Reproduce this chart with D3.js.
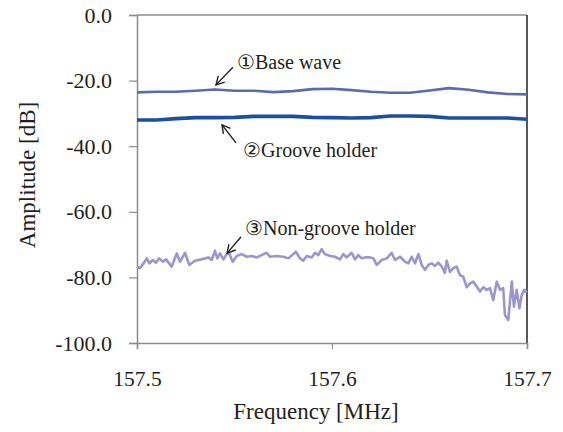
<!DOCTYPE html>
<html>
<head>
<meta charset="utf-8">
<script src="https://cdn.jsdelivr.net/npm/d3@7"></script>
<style>
  body { margin: 0; background: #fff; }
</style>
</head>
<body>
<div id="chart"></div>
<script>

var FONT = "'Liberation Serif', 'Times New Roman', serif"

// frequency samples (MHz) for the two smooth traces
var freqSmooth = [157.50, 157.51, 157.52, 157.53, 157.54, 157.55, 157.56, 157.57, 157.58, 157.59, 157.60,
                  157.61, 157.62, 157.63, 157.64, 157.65, 157.66, 157.67, 157.68, 157.69, 157.70]

// 1 base wave
var baseWave = [-23.6, -23.4, -23.4, -23.1, -22.7, -23.1, -23.1, -23.5, -23.2, -22.6, -22.5,
                -22.9, -23.4, -23.7, -23.7, -23.0, -22.3, -22.8, -23.6, -24.1, -24.2]

// 2 groove holder
var grooveHolder = [-32.0, -32.0, -31.6, -31.3, -31.3, -31.2, -30.9, -30.9, -30.9, -31.2, -31.3,
                    -31.4, -31.3, -30.8, -30.8, -30.9, -31.4, -31.4, -31.4, -31.4, -31.8]

// 3 non-groove holder (noisy trace, read point by point)
var freqNoisy = [157.5000, 157.5015, 157.5036, 157.5050, 157.5063, 157.5081, 157.5097, 157.5114, 157.5132, 157.5149,
                 157.5178, 157.5204, 157.5221, 157.5246, 157.5268, 157.5297, 157.5332, 157.5366, 157.5383, 157.5400,
                 157.5412, 157.5426, 157.5443, 157.5460, 157.5473, 157.5491, 157.5511, 157.5537, 157.5563, 157.5588,
                 157.5614, 157.5639, 157.5665, 157.5682, 157.5716, 157.5750, 157.5776, 157.5802, 157.5815, 157.5836,
                 157.5853, 157.5870, 157.5896, 157.5913, 157.5930, 157.5947, 157.5964, 157.5990, 157.6015, 157.6041,
                 157.6058, 157.6075, 157.6101, 157.6118, 157.6135, 157.6152, 157.6169, 157.6195, 157.6212, 157.6229,
                 157.6255, 157.6281, 157.6306, 157.6323, 157.6349, 157.6374, 157.6391, 157.6409, 157.6426, 157.6443,
                 157.6460, 157.6477, 157.6494, 157.6511, 157.6528, 157.6545, 157.6563, 157.6579, 157.6588, 157.6605,
                 157.6622, 157.6639, 157.6656, 157.6673, 157.6691, 157.6708, 157.6725, 157.6742, 157.6759, 157.6776,
                 157.6793, 157.6810, 157.6827, 157.6845, 157.6862, 157.6878, 157.6887, 157.6904, 157.6922, 157.6933,
                 157.6947, 157.6961, 157.6973, 157.6985, 157.7000]
var nonGroove = [-76.7, -77.2, -75.5, -74.2, -75.7, -74.7, -75.5, -74.2, -75.2, -74.5,
                 -76.7, -72.7, -75.2, -72.5, -76.2, -74.9, -74.5, -73.9, -74.7, -71.9,
                 -74.2, -72.7, -74.5, -72.9, -72.7, -75.2, -73.5, -72.9, -73.7, -73.5,
                 -73.9, -73.2, -72.5, -73.7, -73.5, -73.7, -74.2, -72.9, -72.2, -74.2,
                 -74.9, -73.5, -73.9, -72.5, -73.2, -71.4, -72.9, -73.5, -73.7, -74.5,
                 -72.9, -73.9, -72.5, -74.5, -73.2, -74.2, -73.9, -73.9, -74.2, -76.2,
                 -74.7, -74.2, -72.5, -74.7, -73.7, -75.2, -75.7, -73.7, -75.7, -72.9,
                 -76.2, -77.7, -76.2, -75.7, -76.5, -75.5, -76.7, -78.6, -74.9, -78.3,
                 -77.2, -76.7, -79.3, -79.8, -83.0, -81.8, -81.3, -82.8, -84.3, -83.0,
                 -83.8, -83.3, -86.9, -81.3, -83.8, -83.3, -91.5, -93.0, -81.3, -88.9,
                 -83.8, -89.4, -85.4, -83.8, -84.5]

var yTicks = [0, -20, -40, -60, -80, -100]
var xTicks = [157.5, 157.6, 157.7]

// annotation labels: text start, arrow tail and arrow head (freq, dB)
var noteText = ["\u2460Base wave", "\u2461Groove holder", "\u2462Non-groove holder"]
var noteAt = [[157.5513, -16.5], [157.5544, -43.3], [157.5554, -67.1]]
var arrowFrom = [[157.5492, -15.9], [157.5508, -39.0], [157.5533, -67.7]]
var arrowTo = [[157.5405, -21.3], [157.5436, -33.5], [157.5462, -72.6]]

var W = 563, H = 432
var margin = {top: 15, right: 36, bottom: 89, left: 137},
  width = W - margin.left - margin.right,
  height = H - margin.top - margin.bottom;

var svg = d3.select("#chart").append("svg")
            .attr("width", W).attr("height", H)
            .attr("font-family", FONT)

svg.append("defs").append("marker")
   .attr("id", "head")
   .attr("viewBox", "-10 -6 12 12")
   .attr("markerUnits", "userSpaceOnUse")
   .attr("markerWidth", 12).attr("markerHeight", 12)
   .attr("refX", 0).attr("refY", 0)
   .attr("orient", "auto")
   .append("path")
   .attr("d", "M-8,-4.5L0,0L-8,4.5")
   .attr("fill", "none").attr("stroke", "#231f20").attr("stroke-width", 1.4)

var g = svg.append("g")
           .attr("transform", "translate(" + margin.left + "," + margin.top + ")")

var x = d3.scaleLinear().domain([157.5, 157.7]).range([0, width])
var y = d3.scaleLinear().domain([-100, 0]).range([height, 0])

// frame: grey top and left, dark right edge
g.append("line").attr("x1", 0).attr("x2", width).attr("y1", 0).attr("y2", 0)
 .attr("stroke", "#8c8c8c").attr("stroke-width", 1.5)
g.append("line").attr("x1", width).attr("x2", width).attr("y1", 0).attr("y2", height)
 .attr("stroke", "#231f20").attr("stroke-width", 1.5)

var yAxis = g.append("g")
  .call(d3.axisLeft(y).tickValues(yTicks).tickFormat(d3.format(".1f")).tickSize(8).tickPadding(17))
  .attr("font-family", FONT)
yAxis.selectAll("line").attr("stroke", "#8c8c8c").attr("stroke-width", 1.2)
yAxis.select(".domain").attr("stroke", "#8c8c8c").attr("stroke-width", 1.5)
yAxis.selectAll("text")
     .style("font-family", FONT).style("font-size", "22px").attr("fill", "#231f20")
     .text(function(d) { return d3.format(".1f")(d).replace("\u2212", "-") })

var xAxis = g.append("g")
  .attr("transform", "translate(0," + height + ")")
  .call(d3.axisBottom(x).tickValues(xTicks).tickFormat(d3.format(".1f")).tickSize(6).tickPadding(22))
  .attr("font-family", FONT)
xAxis.selectAll("line").attr("stroke", "#8c8c8c").attr("stroke-width", 1.2)
xAxis.select(".domain").attr("stroke", "#8c8c8c").attr("stroke-width", 1.5)
xAxis.selectAll("text")
     .style("font-family", FONT).style("font-size", "21.5px").attr("fill", "#231f20")

// axis titles
svg.append("text")
   .attr("transform", "translate(35," + (margin.top + 160) + ") rotate(-90)")
   .attr("text-anchor", "middle")
   .style("font-family", FONT).style("font-size", "23px").attr("fill", "#231f20")
   .text("Amplitude [dB]")
svg.append("text")
   .attr("x", 316).attr("y", 419)
   .attr("text-anchor", "middle")
   .style("font-family", FONT).style("font-size", "23px").attr("fill", "#231f20")
   .text("Frequency [MHz]")

// traces
var line = d3.line()
  .x(function(d) { return x(d[0]) })
  .y(function(d) { return y(d[1]) })

var series = [
  {pts: d3.zip(freqNoisy, nonGroove), color: "#9a96cc", w: 2.6},
  {pts: d3.zip(freqSmooth, baseWave), color: "#5a6cae", w: 2.6},
  {pts: d3.zip(freqSmooth, grooveHolder), color: "#1b4f9f", w: 3.6}
]

g.selectAll(".trace")
 .data(series).enter()
 .append("path")
 .attr("class", "trace")
 .attr("d", function(d) { return line(d.pts) })
 .attr("fill", "none")
 .attr("stroke", function(d) { return d.color })
 .attr("stroke-width", function(d) { return d.w })
 .attr("stroke-linejoin", "round")

// annotations
g.selectAll(".arrow")
 .data(d3.zip(arrowFrom, arrowTo)).enter()
 .append("line")
 .attr("class", "arrow")
 .attr("x1", function(d) { return x(d[0][0]) })
 .attr("y1", function(d) { return y(d[0][1]) })
 .attr("x2", function(d) { return x(d[1][0]) })
 .attr("y2", function(d) { return y(d[1][1]) })
 .attr("stroke", "#231f20").attr("stroke-width", 1.4)
 .attr("marker-end", "url(#head)")

g.selectAll(".note")
 .data(d3.zip(noteText, noteAt)).enter()
 .append("text")
 .attr("class", "note")
 .attr("x", function(d) { return x(d[1][0]) })
 .attr("y", function(d) { return y(d[1][1]) })
 .style("font-family", FONT).style("font-size", "20px").attr("fill", "#231f20")
 .text(function(d) { return d[0] })

</script>
</body>
</html>
